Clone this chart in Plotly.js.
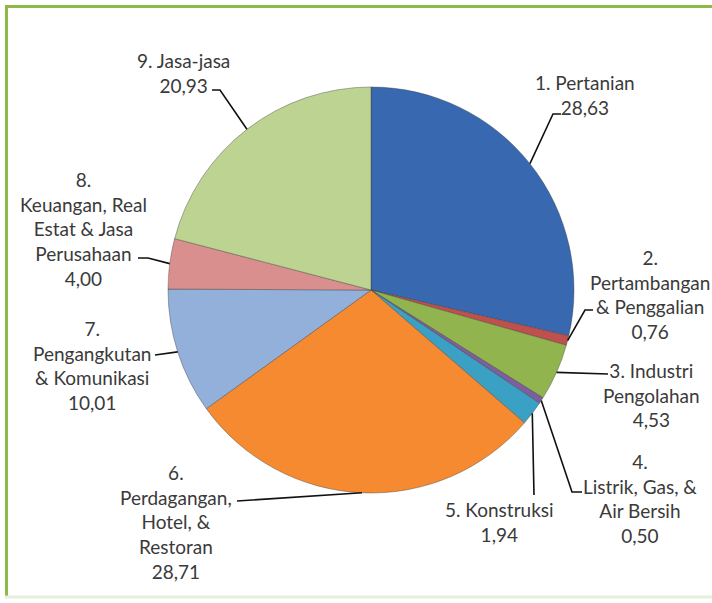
<!DOCTYPE html>
<html>
<head>
<meta charset="utf-8">
<script src="https://cdn.plot.ly/plotly-3.0.1.min.js"></script>
<style>
  html, body { margin: 0; padding: 0; background: #ffffff; }
  #chart { width: 712px; height: 603px; }
</style>
</head>
<body>
<div id="chart"></div>
<script>
// ---- data ----
const categories = [
  "1. Pertanian",
  "2.<br>Pertambangan<br>& Penggalian",
  "3. Industri<br>Pengolahan",
  "4.<br>Listrik, Gas, &<br>Air Bersih",
  "5. Konstruksi",
  "6.<br>Perdagangan,<br>Hotel, &<br>Restoran",
  "7.<br>Pengangkutan<br>& Komunikasi",
  "8.<br>Keuangan, Real<br>Estat & Jasa<br>Perusahaan",
  "9. Jasa-jasa"
];
const values = [28.63, 0.76, 4.53, 0.50, 1.94, 28.71, 10.01, 4.00, 20.93];
const colors = ["#3868AF", "#C0504D", "#92B44E", "#7D5FA0", "#3AA1C4",
                "#F58A30", "#93B0DA", "#D98F8E", "#BDD391"];

// ---- layout helpers (pixels -> paper) ----
const W = 712, H = 603;
const px = v => v / W;
const py = v => 1 - v / H;
const CX = 371, CY = 290, R = 203;

// label block centres and leader elbow points (pixel layout)
const labelPos = [
  {x: 585, y: 95,  path: [[553, 114], [561, 114]]},
  {x: 650, y: 294, path: [[585, 310], [593, 310]]},
  {x: 651, y: 395, path: [[608, 374]]},
  {x: 640, y: 498, path: [[572, 492], [582, 492]]},
  {x: 499, y: 522, path: [[534, 495]]},
  {x: 176, y: 522, path: [[237, 501]]},
  {x: 92,  y: 365, path: [[155, 355]]},
  {x: 83,  y: 229, path: [[148, 258], [138, 258]]},
  {x: 183, y: 73,  path: [[220, 90], [212, 90]]}
];

const fmt = v => v.toFixed(2).replace(".", ",");
const total = values.reduce((a, b) => a + b, 0);

const annotations = [];
const shapes = [];
let cum = 0;
values.forEach((v, i) => {
  const mid = (cum + v / 2) / total * 2 * Math.PI;
  cum += v;
  const ex = CX + R * Math.sin(mid);
  const ey = CY - R * Math.cos(mid);
  const L = labelPos[i];
  annotations.push({
    xref: "paper", yref: "paper",
    x: px(L.x), y: py(L.y),
    xanchor: "center", yanchor: "middle",
    align: "center",
    showarrow: false,
    text: categories[i] + "<br>" + fmt(v),
    font: {family: "Lato, 'Open Sans', sans-serif", size: 19, color: "#3a3a3a"}
  });
  let d = "M" + px(ex) + "," + py(ey);
  L.path.forEach(p => { d += " L" + px(p[0]) + "," + py(p[1]); });
  shapes.push({
    type: "path", xref: "paper", yref: "paper", path: d,
    line: {color: "#111111", width: 1.6}
  });
});

// frame (green border of the original picture)
shapes.push({type: "line", xref: "paper", yref: "paper",
  x0: px(5), x1: px(720), y0: py(6.5), y1: py(6.5),
  line: {color: "#8DB947", width: 3}});
shapes.push({type: "line", xref: "paper", yref: "paper",
  x0: px(6.5), x1: px(6.5), y0: py(5), y1: py(597),
  line: {color: "#8DB947", width: 3}});
shapes.push({type: "line", xref: "paper", yref: "paper",
  x0: px(5), x1: px(720), y0: py(597), y1: py(597),
  line: {color: "#E6EEDC", width: 3}});

const trace = {
  type: "pie",
  values: values,
  labels: categories,
  marker: {colors: colors, line: {color: "rgba(60,60,60,0.4)", width: 1}},
  sort: false,
  direction: "clockwise",
  rotation: 0,
  textinfo: "none",
  hoverinfo: "label+value",
  showlegend: false,
  domain: {x: [px(CX - R), px(CX + R)], y: [py(CY + R), py(CY - R)]}
};

const layout = {
  width: W, height: H,
  margin: {l: 0, r: 0, t: 0, b: 0},
  paper_bgcolor: "#ffffff",
  plot_bgcolor: "#ffffff",
  showlegend: false,
  annotations: annotations,
  shapes: shapes
};

Plotly.newPlot("chart", [trace], layout, {displayModeBar: false, staticPlot: true});
</script>
</body>
</html>
